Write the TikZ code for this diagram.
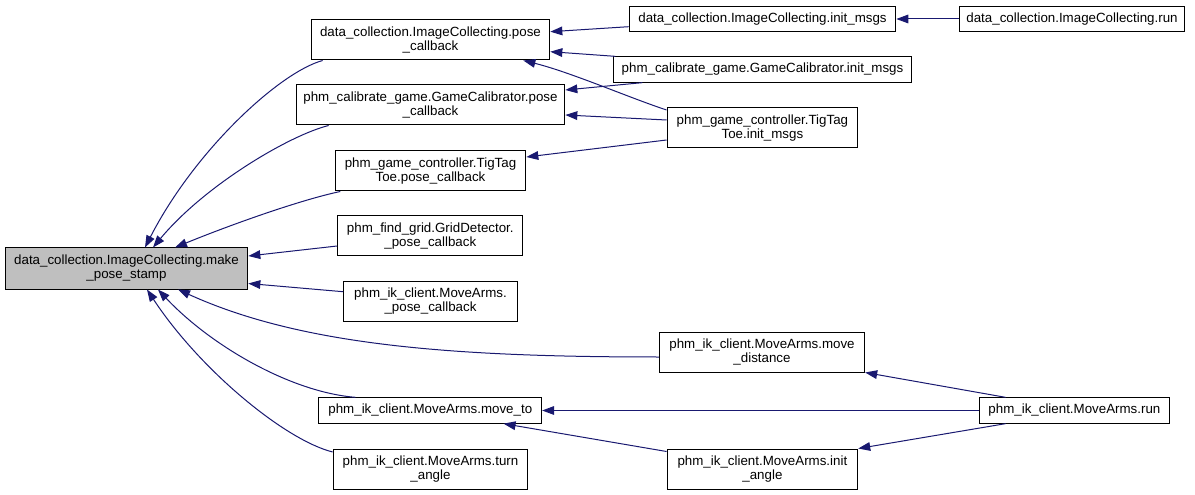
\documentclass[tikz,border=0pt]{standalone}
\usepackage{fontspec}
\setmainfont{Liberation Sans}
\usepackage{tikz}
\usetikzlibrary{arrows.meta,calc}
\definecolor{callblue}{HTML}{191970}
\definecolor{rootgray}{HTML}{BFBFBF}

\begin{document}
\begin{tikzpicture}[
    x=0.75pt, y=-0.75pt,
    fnnode/.style={draw=black, fill=white, line width=0.75pt, inner sep=0pt, align=center, minimum height=30pt, font=\fontsize{10}{10.5}\selectfont},
    onenode/.style={fnnode, minimum height=19pt},
    rootnode/.style={fnnode, fill=rootgray, minimum height=30.75pt},
    call/.style={draw=callblue, line width=0.75pt, -{Triangle[length=9pt, width=6.5pt]}}
]
    \useasboundingbox (0,0) rectangle (1195,495);

    % callee
    \node[rootnode, minimum width=182pt] (main) at (126.5,268.5) {data\_collection.ImageCollecting.make\\\_pose\_stamp};

    % direct callers
    \node[fnnode, minimum width=179pt]   (icpose)    at (430.5,40)    {data\_collection.ImageCollecting.pose\\\_callback};
    \node[fnnode, minimum width=201.5pt] (gcpose)    at (430.5,105)   {phm\_calibrate\_game.GameCalibrator.pose\\\_callback};
    \node[fnnode, minimum width=143pt]   (tttpose)   at (430.5,171)   {phm\_game\_controller.TigTag\\Toe.pose\_callback};
    \node[fnnode, minimum width=139pt]   (gridpose)  at (430.3,236)   {phm\_find\_grid.GridDetector.\\\_pose\_callback};
    \node[fnnode, minimum width=130.5pt] (mapose)    at (430.5,301)   {phm\_ik\_client.MoveArms.\\\_pose\_callback};
    \node[onenode, minimum width=167pt]  (moveto)    at (430.3,410.5) {phm\_ik\_client.MoveArms.move\_to};
    \node[fnnode, minimum width=146pt]   (turnangle) at (430.5,469)   {phm\_ik\_client.MoveArms.turn\\\_angle};

    % second level callers
    \node[onenode, minimum width=200pt]  (icinit)    at (762.5,19)    {data\_collection.ImageCollecting.init\_msgs};
    \node[onenode, minimum width=223pt]  (gcinit)    at (762.5,69.5)  {phm\_calibrate\_game.GameCalibrator.init\_msgs};
    \node[fnnode, minimum width=143pt]   (tttinit)   at (762.4,128)   {phm\_game\_controller.TigTag\\Toe.init\_msgs};
    \node[fnnode, minimum width=154pt]   (movedist)  at (762,352)     {phm\_ik\_client.MoveArms.move\\\_distance};
    \node[fnnode, minimum width=143pt]   (initangle) at (762.4,469)   {phm\_ik\_client.MoveArms.init\\\_angle};

    % third level callers
    \node[onenode, minimum width=168.75pt] (icrun)   at (1072,19)     {data\_collection.ImageCollecting.run};
    \node[onenode, minimum width=143pt]    (marun)   at (1074.4,410.5) {phm\_ik\_client.MoveArms.run};

    % calls into make_pose_stamp
    \draw[call] ($(icpose.south west)+(12,0)$) .. controls (280,72) and (195,150) .. ($(main.north)+(18.5,0)$);
    \draw[call] ($(gcpose.south west)+(33,0)$) .. controls (290,135) and (205,185) .. ($(main.north)+(26.5,0)$);
    \draw[call] ($(tttpose.south west)+(5.6,0)$) .. controls (300,200) and (230,225) .. ($(main.north)+(48.5,0)$);
    \draw[call] ($(gridpose.west)+(0,10)$) -- ($(main.east)+(0,-12.5)$);
    \draw[call] ($(mapose.west)+(0,-9.3)$) -- ($(main.east)+(0,15)$);
    \draw[call] ($(movedist.west)+(0,5)$) .. controls (450,357) and (300,345) .. ($(main.south)+(51.5,0)$);
    \draw[call] ($(moveto.north west)+(37,0)$) .. controls (290,392) and (210,345) .. ($(main.south)+(31.5,0)$);
    \draw[call] ($(turnangle.west)+(0,-17)$) .. controls (285,440) and (200,370) .. ($(main.south)+(20.5,0)$);

    % upper callers
    \draw[call] ($(icinit.west)+(0,7.7)$) -- ($(icpose.east)+(0,-8.3)$);
    \draw[call] ($(gcinit.north west)+(2,0)$) -- ($(icpose.east)+(0,11.7)$);
    \draw[call] ($(tttinit.west)+(0,-18)$) .. controls (630,98) and (570,72) .. ($(icpose.south east)+(-27,0)$);
    \draw[call] ($(gcinit.south west)+(29,0)$) -- ($(gcpose.east)+(0,-15)$);
    \draw[call] ($(tttinit.west)+(0,-8)$) -- ($(gcpose.east)+(0,10)$);
    \draw[call] ($(tttinit.west)+(0,12)$) -- ($(tttpose.east)+(0,-14)$);
    \draw[call] (icrun) -- (icinit);

    % lower callers
    \draw[call] ($(marun.north west)+(27,0)$) -- (movedist.south east);
    \draw[call] (marun) -- (moveto);
    \draw[call] ($(marun.south west)+(27,0)$) -- (initangle.north east);
    \draw[call] ($(initangle.north west)+(0,3)$) -- ($(moveto.south east)+(-38.6,0)$);
\end{tikzpicture}
\end{document}
